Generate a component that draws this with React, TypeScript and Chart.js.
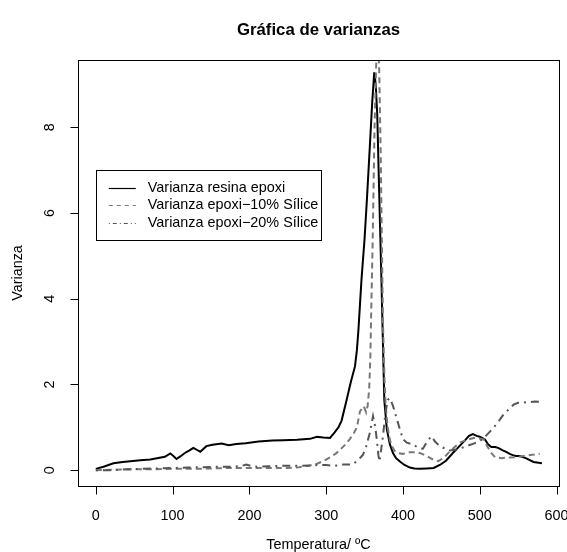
import { useEffect, useRef } from "react";
import { Chart, registerables } from "chart.js";

Chart.register(...registerables);

const chartTitle = "Gráfica de varianzas";
const xAxisTitle = "Temperatura/ ºC";
const yAxisTitle = "Varianza";
const xTickValues = [0, 100, 200, 300, 400, 500, 600];
const yTickValues = [0, 2, 4, 6, 8];
const seriesNames = [
  "Varianza resina epoxi",
  "Varianza epoxi\u221210% Sílice",
  "Varianza epoxi\u221220% Sílice",
];

// Serie 1: resina epoxi
const tempResina = [0, 10, 23, 35, 45, 58, 71, 83, 90, 97, 101, 105, 110, 116, 122, 127, 132, 136, 144, 152, 164, 173, 183, 195, 212, 230, 244, 262, 279, 288, 296, 305, 311, 316, 320, 326.7, 332, 337.5, 340, 342, 346, 350, 353, 357, 360, 362.6, 364.5, 366.5, 369, 372, 374, 375.7, 379, 383, 387, 391, 396, 402, 409, 415, 422, 431, 440, 448, 456, 465, 473, 481, 486, 491, 496, 500, 504, 507, 511, 515, 520, 524, 530, 535, 539, 543, 547, 552, 560, 570, 581];
const varResina = [0.03, 0.08, 0.16, 0.19, 0.21, 0.23, 0.25, 0.29, 0.31, 0.39, 0.33, 0.26, 0.32, 0.40, 0.46, 0.52, 0.47, 0.43, 0.56, 0.59, 0.62, 0.58, 0.61, 0.63, 0.67, 0.69, 0.70, 0.71, 0.73, 0.78, 0.76, 0.75, 0.88, 1.0, 1.15, 1.64, 2.05, 2.42, 2.8, 3.27, 4.45, 5.4, 6.3, 7.6, 8.6, 9.28, 9.0, 8.3, 6.5, 4.4, 2.9, 1.64, 0.95, 0.6, 0.40, 0.28, 0.2, 0.12, 0.06, 0.04, 0.03, 0.04, 0.05, 0.12, 0.22, 0.40, 0.55, 0.70, 0.80, 0.84, 0.80, 0.78, 0.74, 0.71, 0.60, 0.54, 0.54, 0.52, 0.46, 0.42, 0.38, 0.35, 0.33, 0.33, 0.28, 0.19, 0.16, 0.14, 0.11];

// Serie 2: epoxi-10% sílice
const temp10 = [0, 25, 50, 75, 100, 125, 150, 175, 200, 225, 250, 265, 279, 288, 296, 305, 312, 318, 325, 331, 336, 340, 344, 349, 352, 354, 356, 357.5, 359, 360.5, 363, 365, 367, 369, 371, 372.5, 374, 376, 377.5, 380, 383, 386, 389, 393, 400, 409, 418, 425, 431, 438, 446, 454, 461, 468, 474, 482, 492, 500, 505, 510, 515, 520, 528, 535, 545, 557, 568, 578];
const var10 = [0, 0.01, 0.02, 0.02, 0.03, 0.03, 0.04, 0.05, 0.05, 0.05, 0.05, 0.07, 0.11, 0.15, 0.21, 0.3, 0.38, 0.47, 0.6, 0.73, 0.86, 1.0, 1.37, 1.49, 1.35, 1.5, 1.9, 2.6, 4.0, 5.3, 8.0, 9.4, 10.2, 9.4, 7.4, 5.3, 3.4, 2.1, 1.5, 1.0, 0.7, 0.55, 0.45, 0.4, 0.38, 0.42, 0.42, 0.38, 0.33, 0.26, 0.21, 0.3, 0.44, 0.55, 0.64, 0.7, 0.75, 0.74, 0.72, 0.55, 0.4, 0.3, 0.28, 0.29, 0.3, 0.33, 0.36, 0.38];

// Serie 3: epoxi-20% sílice
const temp20 = [0, 20, 40, 60, 80, 100, 120, 140, 160, 180, 190, 196, 202, 210, 225, 240, 260, 280, 290, 300, 310, 322, 335, 340, 345, 348, 352, 357, 361, 364, 366, 368, 369.5, 371, 374, 377, 380, 383, 387, 392, 396, 400, 405, 413, 420, 426, 432, 437, 442, 448, 455, 461, 470, 483, 492, 500, 508, 518, 525, 531, 538, 544, 550, 557, 565, 572, 581];
const var20 = [0, 0.0, 0.02, 0.03, 0.04, 0.05, 0.06, 0.07, 0.08, 0.08, 0.1, 0.13, 0.1, 0.08, 0.09, 0.1, 0.1, 0.11, 0.12, 0.12, 0.1, 0.13, 0.13, 0.22, 0.3, 0.36, 0.55, 0.88, 1.26, 1.0, 0.7, 0.35, 0.2, 0.4, 0.8, 1.3, 1.64, 1.68, 1.5, 1.2, 0.95, 0.72, 0.64, 0.6, 0.52, 0.5, 0.68, 0.79, 0.66, 0.56, 0.5, 0.46, 0.48, 0.56, 0.62, 0.67, 0.8, 0.99, 1.15, 1.3, 1.42, 1.53, 1.57, 1.58, 1.59, 1.6, 1.59];

const toPoints = (xs: number[], ys: number[]) => xs.map((x, i) => ({ x, y: ys[i] }));

const FONT = "'Liberation Sans', Arial, Helvetica, sans-serif";

const rFramePlugin = {
  id: "rFrame",
  afterDraw(chart: any) {
    const { ctx, chartArea: a, scales } = chart;
    const xs = scales.x;
    const ys = scales.y;
    ctx.save();
    ctx.strokeStyle = "#000";
    ctx.fillStyle = "#000";
    ctx.lineWidth = 1;
    ctx.setLineDash([]);
    // box
    ctx.strokeRect(Math.round(a.left) + 0.5, Math.round(a.top) + 0.5, Math.round(a.right - a.left), Math.round(a.bottom - a.top));
    // ticks
    ctx.font = `14.4px ${FONT}`;
    ctx.textAlign = "center";
    ctx.textBaseline = "middle";
    const by = Math.round(a.bottom) + 0.5;
    ctx.beginPath();
    for (const t of xTickValues) {
      const px = Math.round(xs.getPixelForValue(t)) + 0.5;
      ctx.moveTo(px, by);
      ctx.lineTo(px, by + 8);
    }
    const lx = Math.round(a.left) + 0.5;
    for (const t of yTickValues) {
      const py = Math.round(ys.getPixelForValue(t)) + 0.5;
      ctx.moveTo(lx, py);
      ctx.lineTo(lx - 8, py);
    }
    ctx.stroke();
    for (const t of xTickValues) {
      ctx.fillText(String(t), xs.getPixelForValue(t), a.bottom + 30);
    }
    for (const t of yTickValues) {
      ctx.save();
      ctx.translate(a.left - 28, ys.getPixelForValue(t));
      ctx.rotate(-Math.PI / 2);
      ctx.fillText(String(t), 0, 0);
      ctx.restore();
    }
    const cx = (a.left + a.right) / 2;
    ctx.fillText(xAxisTitle, cx, a.bottom + 59);
    ctx.save();
    ctx.translate(a.left - 60, (a.top + a.bottom) / 2);
    ctx.rotate(-Math.PI / 2);
    ctx.fillText(yAxisTitle, 0, 0);
    ctx.restore();
    // title, centred in the top margin
    ctx.font = `bold 16.8px ${FONT}`;
    ctx.fillText(chartTitle, cx, a.top / 2);

    // legend placed at data coordinates (0, 7)
    const L = xs.getPixelForValue(0);
    const T = ys.getPixelForValue(7);
    const W = 225;
    const H = 70;
    ctx.fillStyle = "#fff";
    ctx.fillRect(L, T, W, H);
    ctx.strokeStyle = "#000";
    ctx.strokeRect(Math.round(L) + 0.5, Math.round(T) + 0.5, W, H);
    const styles = [
      { color: "#000", dash: [] as number[], w: 1.2 },
      { color: "#777", dash: [4, 4], w: 1 },
      { color: "#555", dash: [1, 3, 4, 3], w: 1 },
    ];
    ctx.font = `14.4px ${FONT}`;
    ctx.textAlign = "left";
    ctx.textBaseline = "middle";
    seriesNames.forEach((name, i) => {
      const yy = Math.round(T + 17.5 + i * 17.7) + 0.5;
      const s = styles[i];
      ctx.strokeStyle = s.color;
      ctx.lineWidth = s.w;
      ctx.setLineDash(s.dash);
      ctx.beginPath();
      ctx.moveTo(L + 13, yy);
      ctx.lineTo(L + 40, yy);
      ctx.stroke();
      ctx.setLineDash([]);
      ctx.fillStyle = "#000";
      ctx.fillText(name, L + 52, yy);
    });
    ctx.restore();
  },
};

export default function App() {
  const canvasRef = useRef<HTMLCanvasElement | null>(null);

  useEffect(() => {
    if (!canvasRef.current) return;
    const chart = new Chart(canvasRef.current, {
      type: "line",
      data: {
        datasets: [
          {
            label: seriesNames[0],
            data: toPoints(tempResina, varResina),
            borderColor: "#000",
            borderWidth: 2,
            pointRadius: 0,
            tension: 0,
            fill: false,
            clip: 0,
            order: 3,
          },
          {
            label: seriesNames[1],
            data: toPoints(temp10, var10),
            borderColor: "#777",
            borderWidth: 2,
            borderDash: [6, 4],
            pointRadius: 0,
            tension: 0,
            fill: false,
            clip: 0,
            order: 2,
          },
          {
            label: seriesNames[2],
            data: toPoints(temp20, var20),
            borderColor: "#555",
            borderWidth: 2,
            borderDash: [2, 5, 8, 5],
            pointRadius: 0,
            tension: 0,
            fill: false,
            clip: 0,
            order: 1,
          },
        ],
      },
      options: {
        animation: false,
        responsive: true,
        maintainAspectRatio: false,
        devicePixelRatio: 1,
        layout: { padding: { left: 78, right: 8, top: 60, bottom: 66 } },
        scales: {
          x: { type: "linear", min: -23.2, max: 603.2, display: false },
          y: { type: "linear", min: -0.37, max: 9.57, display: false },
        },
        plugins: {
          legend: { display: false },
          title: { display: false },
          tooltip: { enabled: false },
        },
        events: [],
      },
      plugins: [rFramePlugin],
    } as any);
    return () => chart.destroy();
  }, []);

  return (
    <div style={{ position: "absolute", left: 0, top: 0, width: 567, height: 552, background: "#fff" }}>
      <canvas ref={canvasRef} />
    </div>
  );
}
